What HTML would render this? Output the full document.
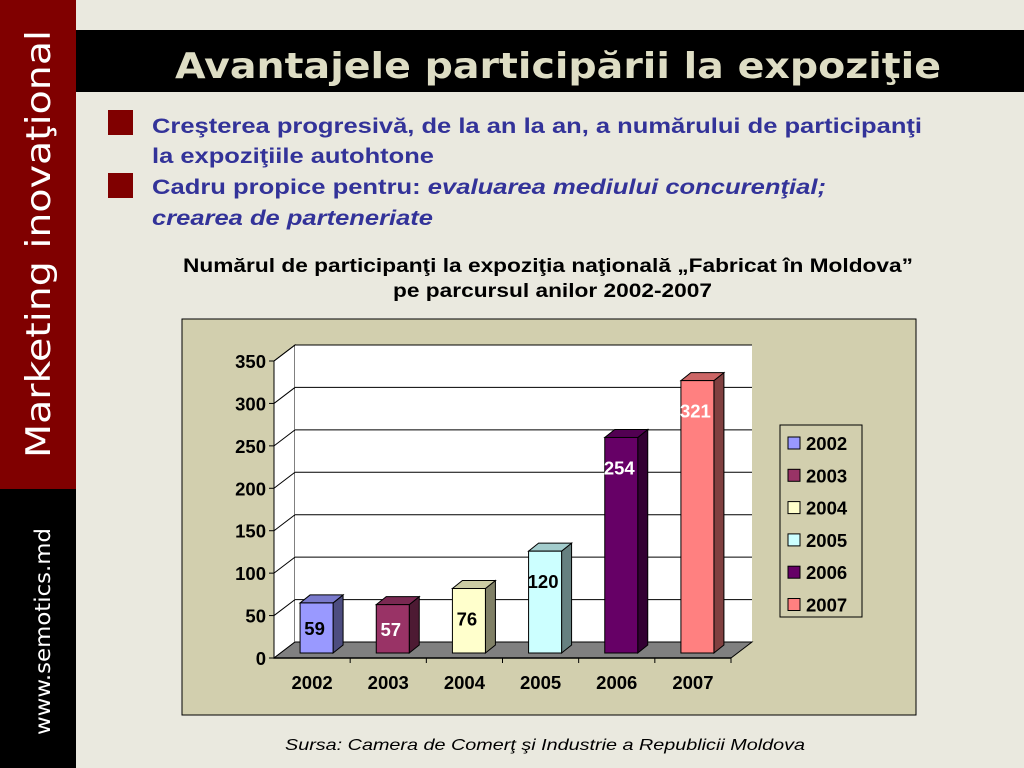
<!DOCTYPE html>
<html><head><meta charset="utf-8"><style>html,body{margin:0;padding:0;background:#eae9df;}svg{display:block}</style></head>
<body>
<svg id="slide" width="1024" height="768" viewBox="0 0 1024 768" xmlns="http://www.w3.org/2000/svg" font-family="Liberation Sans, sans-serif">
<rect width="1024" height="768" fill="#eae9df"/>
<rect x="0" y="0" width="76" height="489" fill="#800000"/>
<rect x="0" y="489" width="76" height="279" fill="#000"/>
<text transform="translate(50,458) rotate(-90)" font-family="DejaVu Sans, sans-serif" font-size="34" fill="#fff" textLength="428" lengthAdjust="spacingAndGlyphs">Marketing inovaţional</text>
<text transform="translate(50,735) rotate(-90)" font-family="DejaVu Sans, sans-serif" font-size="21" fill="#fff" textLength="207" lengthAdjust="spacingAndGlyphs">www.semotics.md</text>
<rect x="76" y="30" width="948" height="62" fill="#000"/>
<text x="175" y="78" font-family="DejaVu Sans, sans-serif" font-weight="bold" font-size="36" fill="#deddc4" textLength="766" lengthAdjust="spacingAndGlyphs">Avantajele participării la expoziţie</text>
<rect x="108" y="110" width="25" height="25" fill="#800000"/>
<rect x="108" y="173" width="25" height="25" fill="#800000"/>
<g font-weight="bold" font-size="21" fill="#333399">
<text x="152" y="133" textLength="770" lengthAdjust="spacingAndGlyphs">Creşterea progresivă, de la an la an, a numărului de participanţi</text>
<text x="152" y="163" textLength="282" lengthAdjust="spacingAndGlyphs">la expoziţiile autohtone</text>
<text x="152" y="194" textLength="674" lengthAdjust="spacingAndGlyphs">Cadru propice pentru: <tspan font-style="italic">evaluarea mediului concurenţial;</tspan></text>
<text x="152" y="225" font-style="italic" textLength="281" lengthAdjust="spacingAndGlyphs">crearea de parteneriate</text>
</g>
<g font-weight="bold" font-size="19" fill="#000">
<text x="183" y="272" textLength="730" lengthAdjust="spacingAndGlyphs">Numărul de participanţi la expoziţia naţională „Fabricat în Moldova”</text>
<text x="393" y="297" textLength="319" lengthAdjust="spacingAndGlyphs">pe parcursul anilor 2002-2007</text>
</g>
<text x="285" y="750" font-style="italic" font-size="16" fill="#000" textLength="520" lengthAdjust="spacingAndGlyphs">Sursa: Camera de Comerţ şi Industrie a Republicii Moldova</text>
<rect x="182" y="319" width="734" height="396" fill="#d2cfae" stroke="#000" stroke-width="1"/>
<g id="chart"></g>
</svg>
<script>
const categories = ['2002','2003','2004','2005','2006','2007'];
const values = [59,57,76,120,254,321];
const yTicks = [0,50,100,150,200,250,300,350];
const fronts = ['#9999ff','#993366','#ffffcc','#ccffff','#660066','#ff8080'];
const sides = ['#4d4d80','#4d1a33','#808066','#668080','#330033','#804040'];
const tops = ['#7a7acc','#7a2952','#cccca3','#a3cccc','#520052','#cc6666'];
const labelColors = ['#000','#fff','#000','#000','#fff','#fff'];

const NS='http://www.w3.org/2000/svg';
const g=document.getElementById('chart');
const X0=274, X1=731, Y0=658, DX=21, DY=-16, YMAX=350, H=297;
const y=v=>Y0-v/YMAX*H;
const bandW=(X1-X0)/categories.length;
function el(t,a,p){const e=document.createElementNS(NS,t);for(const k in a)e.setAttribute(k,a[k]);(p||g).appendChild(e);return e;}
let wall=el('polygon',{points:`${X0},${y(0)} ${X0+DX},${y(0)+DY} ${X0+DX},${y(YMAX)+DY} ${X0},${y(YMAX)}`,fill:'#fff',stroke:'#000','stroke-width':1});


let back=el('rect',{x:X0+DX,y:y(YMAX)+DY,width:X1-X0,height:H,fill:'#fff'});


yTicks.forEach(t=>{
  const yy=y(t);
  if(t>0){let l=el('polyline',{points:`${X0},${yy} ${X0+DX},${yy+DY} ${X1+DX},${yy+DY}`,fill:'none',stroke:'#000','stroke-width':1});
  
  }
  let tk=el('line',{x1:X0-5,y1:yy,x2:X0,y2:yy,stroke:'#000'});
  
  
  let tx=el('text',{x:X0-8,y:yy+7,'text-anchor':'end','font-size':18.5,'font-weight':'bold',fill:'#000'});
  tx.textContent=t;
  
  
});
let floor=el('polygon',{points:`${X0},${Y0} ${X0+DX},${Y0+DY} ${X1+DX},${Y0+DY} ${X1},${Y0}`,fill:'#808080',stroke:'#000','stroke-width':1});


let ax=el('line',{x1:X0,y1:Y0,x2:X1,y2:Y0,stroke:'#000','stroke-width':1.5});


let ayl=el('line',{x1:X0,y1:Y0,x2:X0,y2:y(YMAX),stroke:'#000','stroke-width':1});


const bw=33, bd=10, bdy=-8, off=4.5;
categories.forEach((c,i)=>{
  const cx=X0+bandW*(i+0.5)+off;
  const x0=cx-bw/2, yb=Y0-5, yt=yb-values[i]/YMAX*H;
  const grp=el('g',{});
  
  
  el('polygon',{points:`${x0+bw},${yb} ${x0+bw+bd},${yb+bdy} ${x0+bw+bd},${yt+bdy} ${x0+bw},${yt}`,fill:sides[i],stroke:'#000','stroke-width':1},grp);
  el('polygon',{points:`${x0},${yt} ${x0+bd},${yt+bdy} ${x0+bw+bd},${yt+bdy} ${x0+bw},${yt}`,fill:tops[i],stroke:'#000','stroke-width':1},grp);
  el('rect',{x:x0,y:yt,width:bw,height:yb-yt,fill:fronts[i],stroke:'#000','stroke-width':1},grp);
  const ly=Math.min((yt+yb)/2, yt+30)+7;
  let lab=el('text',{x:cx-2,y:ly,'text-anchor':'middle','font-size':18.5,'font-weight':'bold',fill:labelColors[i]});
  lab.textContent=values[i];
  
  
  let tk=el('line',{x1:X0+bandW*(i+1),y1:Y0,x2:X0+bandW*(i+1),y2:Y0+5,stroke:'#000'});
  
  
  let xl=el('text',{x:X0+bandW*(i+0.5),y:Y0+31,'text-anchor':'middle','font-size':18.5,'font-weight':'bold',fill:'#000'});
  xl.textContent=c;
  
  
});
const lg=el('g',{});


el('rect',{x:780,y:425,width:82,height:192,fill:'#d2cfae',stroke:'#000','stroke-width':1},lg);
categories.forEach((c,i)=>{
  const yy=443+i*32.3;
  const e=el('g',{},lg);
  
  
  el('rect',{x:788,y:yy-6,width:12,height:12,fill:fronts[i],stroke:'#000','stroke-width':1},e);
  const t=el('text',{x:806,y:yy+7,'font-size':18.5,'font-weight':'bold',fill:'#000'},e);
  t.textContent=c;
});
</script>
</body></html>
